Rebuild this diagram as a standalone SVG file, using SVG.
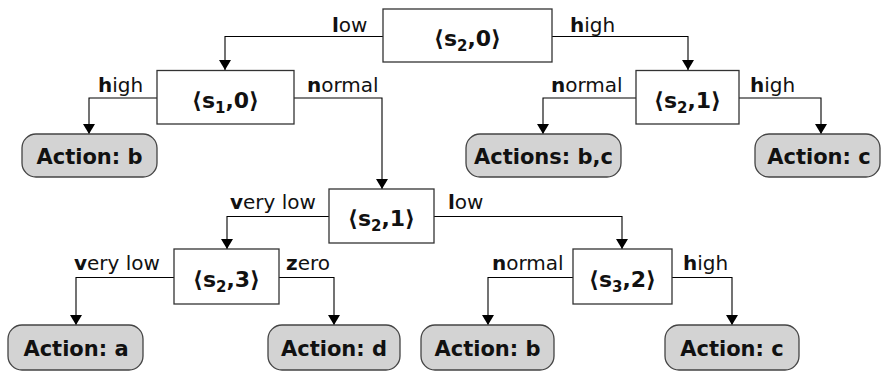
<svg xmlns="http://www.w3.org/2000/svg" width="881" height="371" viewBox="0 0 881 371">
<style>
.node rect.box{fill:#fff;stroke:#333;stroke-width:1.3}
.act rect{fill:#d3d3d3;stroke:#444;stroke-width:1.3}
.nt{font-family:"DejaVu Sans",Verdana,sans-serif;font-weight:bold;font-size:22px;fill:#111;text-anchor:middle}
.at{font-family:"DejaVu Sans",Verdana,sans-serif;font-weight:bold;font-size:21px;fill:#111;text-anchor:middle}
.lb{font-family:"DejaVu Sans",Verdana,sans-serif;font-size:20px;fill:#111}
.lb .b{font-weight:bold}
.sub{font-size:15px}
#connectors path{fill:none;stroke:#000;stroke-width:1.1;marker-end:url(#arr)}
</style>
<defs>
<marker id="arr" markerUnits="userSpaceOnUse" markerWidth="12" markerHeight="12" refX="10" refY="6" orient="auto">
<path d="M0,0 L10,6 L0,12 z" fill="#000"/>
</marker>
</defs>
<g id="connectors">
<path d="M383,36.5 H225 V70"/>
<path d="M552,36.5 H688 V70"/>
<path d="M157,98 H89 V134"/>
<path d="M294,98 H382 V189"/>
<path d="M636,98 H543 V134"/>
<path d="M739,98 H821 V134"/>
<path d="M329,216.5 H227 V249"/>
<path d="M434,216.5 H622 V249"/>
<path d="M174,277.5 H76 V325"/>
<path d="M279,277.5 H334 V325"/>
<path d="M573,277.5 H488 V325"/>
<path d="M672,277.5 H732 V325"/>
</g>
<g id="labels">
<text class="lb" x="332" y="31.5"><tspan class="b">l</tspan>ow</text>
<text class="lb" x="570" y="31.5"><tspan class="b">h</tspan>igh</text>
<text class="lb" x="98" y="92"><tspan class="b">h</tspan>igh</text>
<text class="lb" x="307" y="92"><tspan class="b">n</tspan>ormal</text>
<text class="lb" x="551" y="92"><tspan class="b">n</tspan>ormal</text>
<text class="lb" x="750" y="92"><tspan class="b">h</tspan>igh</text>
<text class="lb" x="230" y="208.5"><tspan class="b">v</tspan>ery low</text>
<text class="lb" x="448" y="208.5"><tspan class="b">l</tspan>ow</text>
<text class="lb" x="74" y="270"><tspan class="b">v</tspan>ery low</text>
<text class="lb" x="286" y="270"><tspan class="b">z</tspan>ero</text>
<text class="lb" x="492" y="270"><tspan class="b">n</tspan>ormal</text>
<text class="lb" x="683" y="270"><tspan class="b">h</tspan>igh</text>
</g>
<g id="n0" class="node"><rect class="box" x="383" y="9" width="169" height="53"/><text class="nt" x="467.5" y="46">⟨s<tspan class="sub" dy="5">2</tspan><tspan dy="-5">,0⟩</tspan></text></g>
<g id="n1" class="node"><rect class="box" x="157" y="70.5" width="137" height="53.5"/><text class="nt" x="225.5" y="107.5">⟨s<tspan class="sub" dy="5">1</tspan><tspan dy="-5">,0⟩</tspan></text></g>
<g id="n2" class="node"><rect class="box" x="636" y="70.5" width="103" height="53.5"/><text class="nt" x="687.5" y="107.5">⟨s<tspan class="sub" dy="5">2</tspan><tspan dy="-5">,1⟩</tspan></text></g>
<g id="n3" class="node"><rect class="box" x="329" y="189" width="105" height="54"/><text class="nt" x="381.5" y="226">⟨s<tspan class="sub" dy="5">2</tspan><tspan dy="-5">,1⟩</tspan></text></g>
<g id="n4" class="node"><rect class="box" x="174" y="249" width="105" height="55"/><text class="nt" x="226.5" y="286.5">⟨s<tspan class="sub" dy="5">2</tspan><tspan dy="-5">,3⟩</tspan></text></g>
<g id="n5" class="node"><rect class="box" x="573" y="249" width="99" height="55"/><text class="nt" x="622.5" y="286.5">⟨s<tspan class="sub" dy="5">3</tspan><tspan dy="-5">,2⟩</tspan></text></g>
<g id="a1" class="act"><rect x="22" y="134" width="135" height="43" rx="14"/><text class="at" x="89.5" y="164">Action: b</text></g>
<g id="a2" class="act"><rect x="466" y="134" width="155" height="43" rx="14"/><text class="at" x="543.5" y="164">Actions: b,c</text></g>
<g id="a3" class="act"><rect x="755" y="134" width="125" height="43" rx="14"/><text class="at" x="819" y="164">Action: c</text></g>
<g id="a4" class="act"><rect x="8" y="325" width="135" height="45" rx="14"/><text class="at" x="76" y="356">Action: a</text></g>
<g id="a5" class="act"><rect x="268" y="325" width="132" height="45" rx="14"/><text class="at" x="334" y="356">Action: d</text></g>
<g id="a6" class="act"><rect x="421" y="325" width="133" height="45" rx="14"/><text class="at" x="487.5" y="356">Action: b</text></g>
<g id="a7" class="act"><rect x="665" y="325" width="134" height="45" rx="14"/><text class="at" x="732" y="356">Action: c</text></g>
</svg>
